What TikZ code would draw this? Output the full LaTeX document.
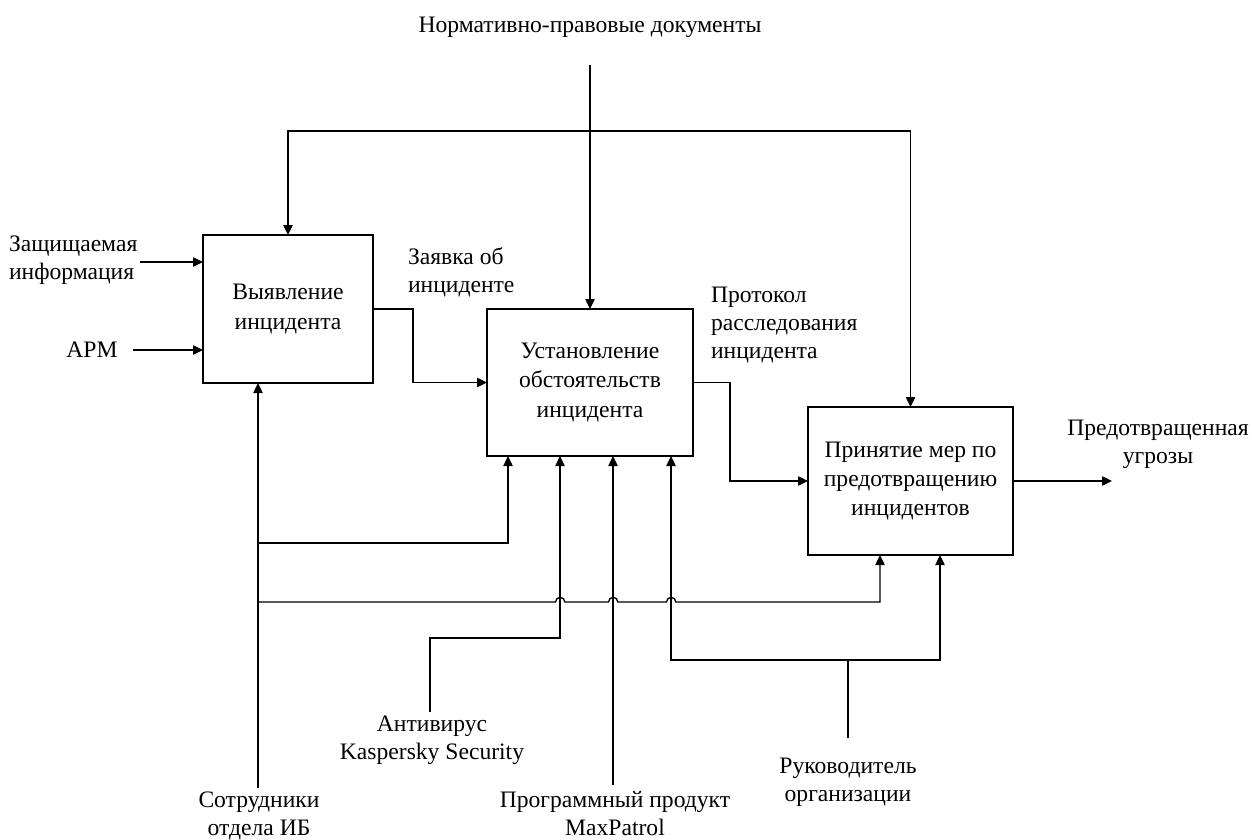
\documentclass[tikz,border=0pt]{standalone}
\usepackage{fontspec}
\setmainfont{Liberation Serif}
\usetikzlibrary{arrows.meta,calc}
\begin{document}
\begin{tikzpicture}[x=0.75pt,y=-0.75pt,
  line width=1pt,
  every node/.style={inner sep=0pt,outer sep=0pt},
  func/.style={draw,line width=1pt,align=center,font=\fontsize{17.7pt}{22pt}\selectfont},
  lbl/.style={align=center,font=\fontsize{17.7pt}{21pt}\selectfont},
  lbll/.style={align=left,font=\fontsize{17.7pt}{21pt}\selectfont},
  arr/.style={-{Triangle[length=7.5pt,width=7pt]}}
]
\useasboundingbox (0,0) rectangle (1253,839);

% function boxes
\node[func,minimum width=127.5pt,minimum height=111pt] (A) at (288,309) {Выявление\\инцидента};
\node[func,minimum width=154.5pt,minimum height=110.25pt] (B) at (590,382.5) {Установление\\обстоятельств\\инцидента};
\node[func,minimum width=153.75pt,minimum height=111pt] (C) at (910.5,481) {Принятие мер по\\предотвращению\\инцидентов};

% labels
\node[lbl] (norm) at (590,27) {Нормативно-правовые документы};
\node[lbll,anchor=west] (zi) at (9,260) {Защищаемая\\информация};
\node[lbl] (arm) at (92,350) {АРМ};
\node[lbll,anchor=west] (zayav) at (408,272) {Заявка об\\инциденте};
\node[lbll,anchor=west] (prot) at (711,325) {Протокол\\расследования\\инцидента};
\node[lbl] (pred) at (1158,444) {Предотвращенная\\угрозы};
\node[lbl] (sotr) at (259,816) {Сотрудники\\отдела ИБ};
\node[lbl] (anti) at (432,740) {Антивирус\\Kaspersky Security};
\node[lbl] (maxp) at (615,814) {Программный продукт\\MaxPatrol};
\node[lbl] (ruk) at (848,782) {Руководитель\\организации};

% helper coordinates
\coordinate (n0) at (590,65);
\coordinate (t0) at (590,131);
\coordinate (zi0) at (140,262);
\coordinate (arm0) at (133,350);
\coordinate (ab) at (413,340);
\coordinate (bc) at (730,430);
\coordinate (out) at (1112,481);
\coordinate (s0) at (258,788);
\coordinate (s1) at (258,543);
\coordinate (s2) at (258,602);
\coordinate (k0) at (430,712);
\coordinate (k1) at (430,638);
\coordinate (m0) at (613,785);
\coordinate (r0) at (848,738);
\coordinate (r1) at (848,660);
\path (B.south west) ++(21,0) coordinate (Bm1);
\path (B.south west) ++(73,0) coordinate (Bm2);
\path (B.south west) ++(184,0) coordinate (Bm4);
\path (C.south west) ++(72,0) coordinate (Cm1);
\path (C.south west) ++(132,0) coordinate (Cm2);

% controls
\draw[arr] (n0) -- (n0 |- B.north);
\draw[arr] (t0) -| (A.north);
\draw[arr] (t0) -| (C.north);

% inputs
\draw[arr] (zi0) -- (zi0 -| A.west);
\draw[arr] (arm0) -- (arm0 -| A.west);

% outputs
\draw[arr] (A.east) -| (ab) |- (B.west);
\draw[arr] (B.east) -| (bc) |- (C.west);
\draw[arr] (C.east) -- (out);

% mechanisms
\draw[arr] (s0) -- (s0 |- A.south);
\draw[arr] (s1) -| (Bm1);
\draw[arr] (s2) -- (555.5,602) arc[start angle=180,end angle=0,radius=3.5pt]
  -- (608.5,602) arc[start angle=180,end angle=0,radius=3.5pt]
  -- (666.5,602) arc[start angle=180,end angle=0,radius=3.5pt]
  -| (Cm1);
\draw[arr] (k0) -- (k1) -| (Bm2);
\draw[arr] (m0) -- (m0 |- B.south);
\draw[arr] (r0) -- (r1) -| (Bm4);
\draw[arr] (r1) -| (Cm2);
\end{tikzpicture}
\end{document}
